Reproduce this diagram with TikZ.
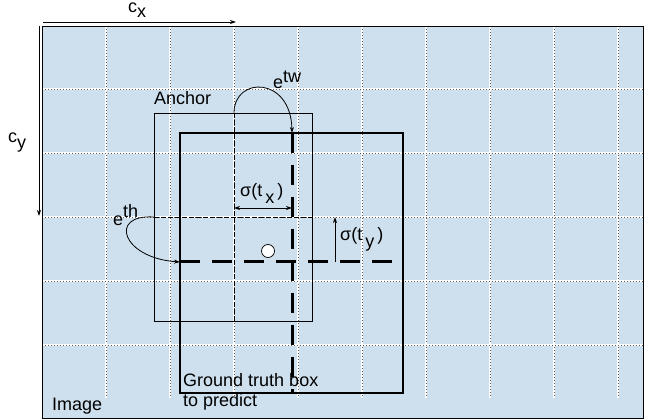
\documentclass[tikz,border=0pt]{standalone}
\usepackage{fontspec}
\setmainfont{Liberation Sans}
\usetikzlibrary{arrows.meta}
\definecolor{imgbg}{RGB}{206,224,238}
\begin{document}
\begin{tikzpicture}[x=1pt,y=-1pt,
  lbl/.style={inner sep=0pt, font=\fontsize{18}{20}\selectfont, anchor=base west},
  gridwhite/.style={white, line width=1.1pt},
  griddot/.style={black!65, line width=0.9pt, dash pattern=on 1.4pt off 1.6pt},
  thinbox/.style={black, line width=0.8pt},
  thickbox/.style={black, line width=2.8pt},
  thickdash/.style={black, line width=3pt, dash pattern=on 20pt off 12pt},
  thindash/.style={black, line width=0.7pt, dash pattern=on 5pt off 2pt},
  tip/.style={-{Stealth[length=6pt,width=4pt]}},
  thinarrow/.style={black, line width=0.8pt, tip},
  dblarrow/.style={black, line width=0.8pt, {Stealth[length=6pt,width=4pt]}-{Stealth[length=6pt,width=4pt]}}]
\useasboundingbox (0,0) rectangle (655,419);
% image background
\fill[imgbg] (42,26) rectangle (643,418);
% grid
\foreach \gx in {106,170,234,298,362,426,490,554,618}{
  \draw[gridwhite] (\gx,26) -- (\gx,398);
  \draw[griddot] (\gx,26) -- (\gx,398);
}
\foreach \gy in {89,153,217,281,345}{
  \draw[gridwhite] (42,\gy) -- (643,\gy);
  \draw[griddot] (42,\gy) -- (643,\gy);
}
\draw[thinbox] (42,26) rectangle (643,418);
% axes arrows
\coordinate (cxs) at (43,22);
\coordinate (cxe) at (236,22);
\coordinate (cys) at (39,26);
\coordinate (cye) at (39,216);
\draw[thinarrow] (cxs) -- (cxe);
\draw[thinarrow] (cys) -- (cye);
% anchor box
\draw[thinbox] (154,113) rectangle (312,321);
\coordinate (ancT) at (234,113);
\coordinate (ancB) at (234,321);
\coordinate (ancL) at (154,217);
\coordinate (ancR) at (312,217);
\draw[thindash] (ancT) -- (ancB);
\draw[thindash] (ancL) -- (ancR);
% ground truth box
\draw[thickbox] (180,133) rectangle (403,393);
\coordinate (gtT) at (292,133);
\coordinate (gtB) at (292,393);
\coordinate (gtL) at (180,262);
\coordinate (gtR) at (403,262);
\draw[thickdash] (gtT) -- (gtB);
\draw[thickdash] (gtL) -- (gtR);
% center circle
\node[circle, draw=black, fill=white, line width=0.7pt, minimum size=13pt, inner sep=0pt] (ctr) at (268,251) {};
% e^tw arc
\draw[thinarrow] (ancT) .. controls (234,76) and (291,76) .. (gtT);
% e^th arc
\draw[thinarrow] (ancL) .. controls (108,214) and (122,258) .. (gtL);
% sigma(tx) arrow
\coordinate (sxl) at (234,208);
\coordinate (sxr) at (292,208);
\draw[dblarrow] (sxl) -- (sxr);
% sigma(ty) arrow
\coordinate (syb) at (335,262);
\coordinate (syt) at (335,217);
\draw[thinarrow] (syb) -- (syt);
% labels
\node[lbl] (lcx) at (128,13) {c\raisebox{-4.5pt}{x}};
\node[lbl] (lcy) at (8,143) {c\raisebox{-6pt}{y}};
\node[lbl] (letw) at (273,89) {e\raisebox{6pt}{tw}};
\node[lbl] (leth) at (113,226) {e\raisebox{8pt}{th}};
\node[lbl] (lsx) at (240,197) {σ(t\,\raisebox{-7pt}{x}\,)};
\node[lbl] (lsy) at (340,241) {σ(t\,\raisebox{-7pt}{y}\,)};
\node[lbl] (lanchor) at (154,105) {Anchor};
\node[lbl] (lgt1) at (183,386) {Ground truth box};
\node[lbl] (lgt2) at (183,406) {to predict};
\node[lbl] (limg) at (52,410) {Image};
\end{tikzpicture}
\end{document}
